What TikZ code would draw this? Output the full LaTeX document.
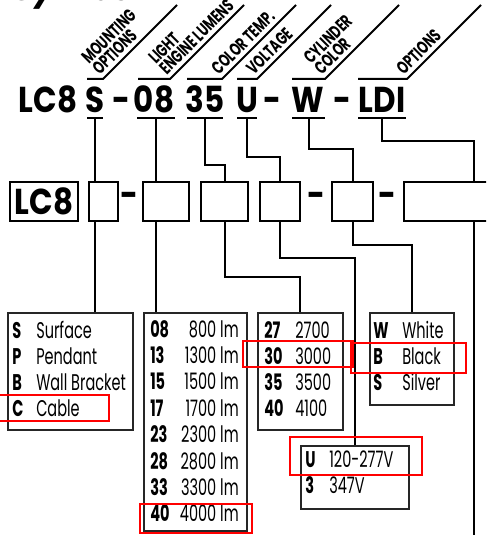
\documentclass[tikz,border=0pt]{standalone}
\usepackage{fontspec}
\newfontfamily\bigfont{Poppins}[FakeStretch=0.86]
\newfontfamily\titlefont{Poppins}
\newfontfamily\condfont{Poppins}[FakeStretch=0.64]
\newfontfamily\txtfont{Poppins}[FakeStretch=0.64]
\newfontfamily\hdrfont{Poppins}[FakeStretch=0.68]
\begin{document}
\begin{tikzpicture}[x=0.75pt,y=-0.75pt,
  ln/.style={line width=1.5pt},
  wh/.style 2 args={minimum width=#1*0.75pt, minimum height=#2*0.75pt},
  cbox/.style={draw, line width=1.5pt, anchor=north west, inner sep=0pt},
  tbox/.style={draw=black!85, line width=1.4pt, anchor=north west, inner sep=0pt},
  redbox/.style={draw=red, line width=2.2pt},
  codebig/.style={font=\bigfont\bfseries\fontsize{27}{30}\selectfont, inner sep=0pt, anchor=base},
  hdr/.style={font=\hdrfont\bfseries\fontsize{13.5}{11.3}\selectfont, rotate=45, anchor=south west, align=left, inner xsep=0pt, inner ysep=3.3pt},
  tcode/.style={font=\condfont\bfseries\fontsize{17}{18}\selectfont, inner sep=0pt, anchor=base west},
  ttxt/.style={font=\txtfont\fontsize{17}{18}\selectfont, inner sep=0pt, anchor=base west},
  tval/.style={font=\txtfont\fontsize{17}{18}\selectfont, inner sep=0pt, anchor=base east}]
\useasboundingbox (0,0) rectangle (486,535);
\clip (0,0) rectangle (486,535);

% cut-off title
\node[font=\titlefont\bfseries\itshape\fontsize{25}{30}\selectfont, inner sep=0pt, anchor=base west] (title) at (12,1) {Symbol};

% header diagonals
\foreach \a/\b/\nm in {87/103/hS, 138/170/h08, 187/222/h35, 237/257/hU, 292/325/hW, 358/407/hL}{
  \coordinate (\nm a) at (\a,79);
  \coordinate (\nm b) at (\b,79);
  \draw[ln] (\nm a) -- (\nm b) -- ++(74,-74) coordinate (\nm c);
}
\node[hdr] (lS) at (hSb) {MOUNTING\\OPTIONS};
\node[hdr] (l08) at (h08b) {LIGHT\\ENGINE LUMENS};
\node[hdr] (l35) at (h35b) {COLOR TEMP.};
\node[hdr] (lU) at (hUb) {VOLTAGE};
\node[hdr] (lW) at (hWb) {CYLINDER\\COLOR};
\node[hdr] (lL) at (hLb) {OPTIONS};

% code text
\node[codebig] (cLC) at (48,112) {LC8};
\node[codebig] (cS) at (95,112) {S};
\node[codebig] (d1) at (121,112) {-};
\node[codebig] (c08) at (154,112) {08};
\node[codebig] (c35) at (205,112) {35};
\node[codebig] (cU) at (247,112) {U};
\node[codebig] (d2) at (272,112) {-};
\node[codebig] (cW) at (308,112) {W};
\node[codebig] (d3) at (342,112) {-};
\node[codebig] (cL) at (382,112) {LDI};

% bars under codes
\foreach \a/\b/\nm in {87/103/sS, 137/175/s08, 187/223/s35, 237/257/sU, 292/325/sW, 358/406/sL}{
  \draw[ln] (\a,118) -- (\b,118);
  \coordinate (\nm) at ({(\a+\b)/2},118);
}

% code boxes
\node[cbox, wh={68}{39}, font=\bigfont\bfseries\fontsize{27}{30}\selectfont] (bLC) at (9,181) {LC8};
\node[cbox, wh={29}{39}] (bS) at (88,181) {};
\node[codebig, anchor=center] (e1) at (129,200) {-};
\node[cbox, wh={46}{39}] (b08) at (142,181) {};
\node[cbox, wh={47}{39}] (b35) at (200,181) {};
\node[cbox, wh={40}{39}] (bU) at (259,181) {};
\node[codebig, anchor=center] (e2) at (316,200) {-};
\node[cbox, wh={41}{39}] (bW) at (331,181) {};
\node[codebig, anchor=center] (e3) at (387.5,200) {-};
\node[cbox, wh={140}{39}] (bL) at (403,181) {};

% tables
\node[tbox, wh={125}{117}] (tM) at (7,312) {};
\node[tbox, wh={103}{218}] (tLm) at (143,312) {};
\node[tbox, wh={85}{117}] (tC) at (257,312) {};
\node[tbox, wh={84}{92}] (tCo) at (369,312) {};
\node[tbox, wh={108}{63}] (tV) at (300,445) {};

% connectors
\draw[ln] (sS) -- (bS.north -| sS);
\draw[ln] (bS.south -| sS) -- (tM.north -| sS);
\draw[ln] (s08) -- (b08.north -| s08);
\draw[ln] (b08.south -| s08) -- (tLm.north -| s08);
\draw[ln] (s35) -- ++(0,47) -| (b35.north);
\draw[ln] (b35.south) -- ++(0,55) -| (tC.north);
\draw[ln] (sU) -- ++(0,39) -| (bU.north);
\draw[ln] (bU.south) -- ++(0,36) -| (tV.north);
\draw[ln] (sW) -- ++(0,31) -| (bW.north);
\draw[ln] (bW.south) -- ++(0,23) -| (tCo.north);
\draw[ln] (sL) -- ++(0,23) -| (bL.north);
\coordinate (endL) at (473,540);
\draw[ln] (bL.south) -- (bL.south |- endL);

% mounting rows
\foreach \c/\t [count=\i from 0] in {S/Surface, P/Pendant, B/Wall Bracket, C/Cable}{
  \node[tcode] (mc\i) at (12,{338+26.3*\i}) {\c};
  \node[ttxt] (mt\i) at (36,{338+26.3*\i}) {\t};
}
% lumens rows
\foreach \c/\t [count=\i from 0] in {08/800 lm, 13/1300 lm, 15/1500 lm, 17/1700 lm, 23/2300 lm, 28/2800 lm, 33/3300 lm, 40/4000 lm}{
  \node[tcode] (lc\i) at (150,{337+26.4*\i}) {\c};
  \node[tval] (lt\i) at (239,{337+26.4*\i}) {\t};
}
% cct rows
\foreach \c/\t [count=\i from 0] in {27/2700, 30/3000, 35/3500, 40/4100}{
  \node[tcode] (kc\i) at (264,{338+26.1*\i}) {\c};
  \node[ttxt] (kt\i) at (295,{338+26.1*\i}) {\t};
}
% colour rows
\foreach \c/\t [count=\i from 0] in {W/White, B/Black, S/Silver}{
  \node[tcode] (oc\i) at (373,{338+26*\i}) {\c};
  \node[ttxt] (ot\i) at (402,{338+26*\i}) {\t};
}
% voltage rows
\foreach \c/\t [count=\i from 0] in {U/120-277V, 3/347V}{
  \node[tcode] (vc\i) at (305,{467+26*\i}) {\c};
  \node[ttxt] (vt\i) at (329,{467+26*\i}) {\t};
}

% red highlights
\draw[redbox] (-5,395) rectangle (109,421);
\draw[redbox] (140,504) rectangle (252,533);
\draw[redbox] (243,341) rectangle (353,367);
\draw[redbox] (351,343) rectangle (466,373);
\draw[redbox] (290,437) rectangle (422,475);
\end{tikzpicture}
\end{document}
